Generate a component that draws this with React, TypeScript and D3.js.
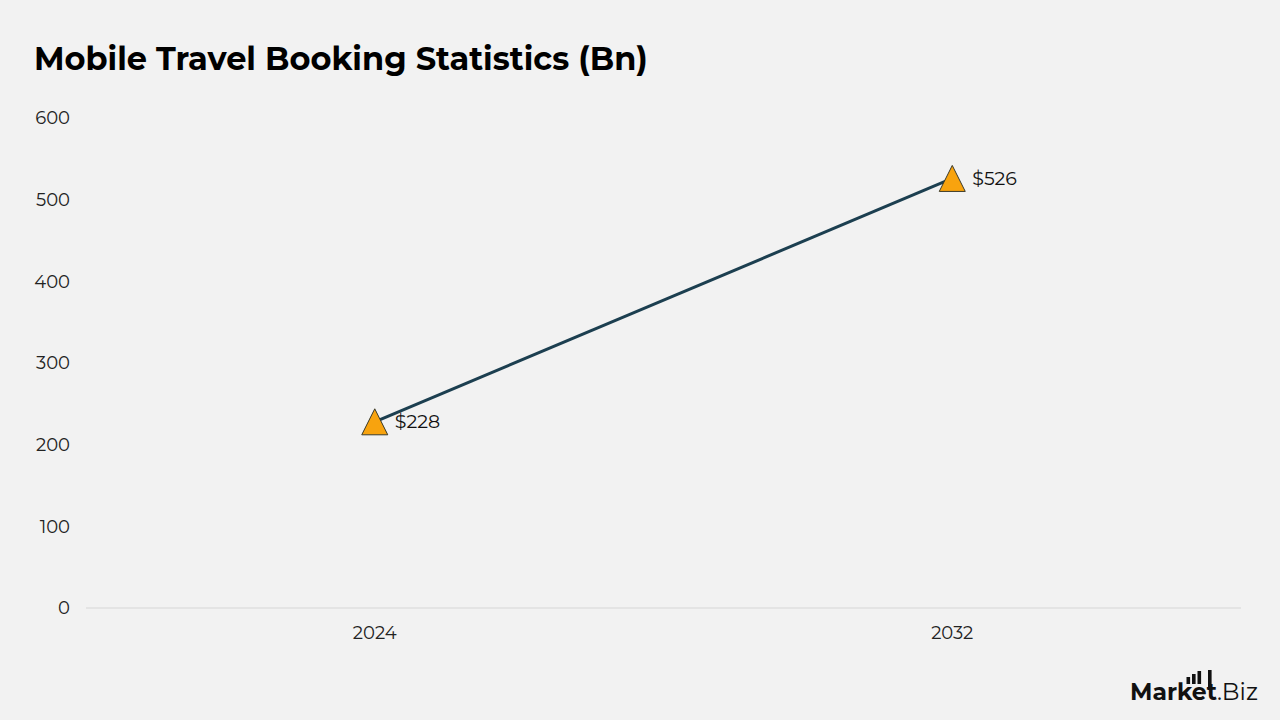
import React, { useEffect, useRef } from 'react';
import * as d3 from 'd3';

const years = ['2024', '2032'];
const values = [228, 526];
const valueLabels = ['$228', '$526'];
const yTicks = [0, 100, 200, 300, 400, 500, 600];

const FONT = "Montserrat, 'Open Sans', 'DejaVu Sans', sans-serif";

const App = () => {
  const svgRef = useRef<SVGSVGElement | null>(null);

  useEffect(() => {
    if (!svgRef.current) return;
    const width = 1280;
    const height = 720;
    const svg = d3.select(svgRef.current);
    svg.selectAll('*').remove();
    svg.attr('width', width).attr('height', height);

    svg.append('rect').attr('width', width).attr('height', height).attr('fill', '#f2f2f2');

    svg.append('text')
      .attr('x', 34)
      .attr('y', 70)
      .attr('font-family', FONT)
      .attr('font-weight', 700)
      .attr('font-size', 32)
      .attr('fill', '#000')
      .text('Mobile Travel Booking Statistics (Bn)');

    const x = d3.scalePoint<string>().domain(years).range([86, 1241]).padding(0.5);
    const y = d3.scaleLinear().domain([0, 600]).range([608, 118]);

    // y tick labels
    svg.append('g')
      .selectAll('text')
      .data(yTicks)
      .enter()
      .append('text')
      .attr('x', 70)
      .attr('y', d => y(d))
      .attr('dy', '0.35em')
      .attr('text-anchor', 'end')
      .attr('font-family', FONT)
      .attr('font-size', 18)
      .attr('fill', '#222')
      .text(d => d);

    // baseline
    svg.append('line')
      .attr('x1', 86).attr('x2', 1241)
      .attr('y1', y(0)).attr('y2', y(0))
      .attr('stroke', '#d6d6d6')
      .attr('stroke-width', 1);

    // x labels
    svg.append('g')
      .selectAll('text')
      .data(years)
      .enter()
      .append('text')
      .attr('x', d => x(d) as number)
      .attr('y', 639)
      .attr('text-anchor', 'middle')
      .attr('font-family', FONT)
      .attr('font-size', 18)
      .attr('fill', '#222')
      .text(d => d);

    const pts = years.map((yr, i) => ({ yr, v: values[i], label: valueLabels[i] }));

    const line = d3.line<{ yr: string; v: number }>()
      .x(d => x(d.yr) as number)
      .y(d => y(d.v));

    svg.append('path')
      .datum(pts)
      .attr('d', line)
      .attr('fill', 'none')
      .attr('stroke', '#1c3f50')
      .attr('stroke-width', 3);

    // triangle marker, 26 wide and 26 tall, centred on the point
    const tri = 'M0,-13L13,13L-13,13Z';
    svg.append('g')
      .selectAll('path')
      .data(pts)
      .enter()
      .append('path')
      .attr('d', tri)
      .attr('transform', d => `translate(${x(d.yr)},${y(d.v)})`)
      .attr('fill', '#f8a30e')
      .attr('stroke', '#3a3a2a')
      .attr('stroke-width', 1);

    svg.append('g')
      .selectAll('text')
      .data(pts)
      .enter()
      .append('text')
      .attr('x', d => (x(d.yr) as number) + 20)
      .attr('y', d => y(d.v))
      .attr('dy', '0.35em')
      .attr('font-family', FONT)
      .attr('font-size', 19)
      .attr('fill', '#111')
      .text(d => d.label);

    // logo
    const logo = svg.append('g');
    logo.append('text')
      .attr('x', 1130)
      .attr('y', 700)
      .attr('font-family', FONT)
      .attr('font-weight', 700)
      .attr('font-size', 23.5)
      .attr('fill', '#111')
      .text('Market')
      .append('tspan')
      .attr('font-weight', 400)
      .text('.Biz');
    const barX = [1186.5, 1192, 1197.5, 1208];
    const barTop = [677, 674, 671, 670];
    logo.selectAll('rect.bar')
      .data(barX)
      .enter()
      .append('rect')
      .attr('x', d => d)
      .attr('y', (d, i) => barTop[i])
      .attr('width', 3.6)
      .attr('height', (d, i) => (i === 3 ? 20 : 684 - barTop[i]))
      .attr('fill', '#111');
  }, []);

  return (
    <div style={{ position: 'absolute', left: 0, top: 0 }}>
      <svg ref={svgRef} style={{ display: 'block' }}></svg>
    </div>
  );
};

export default App;
